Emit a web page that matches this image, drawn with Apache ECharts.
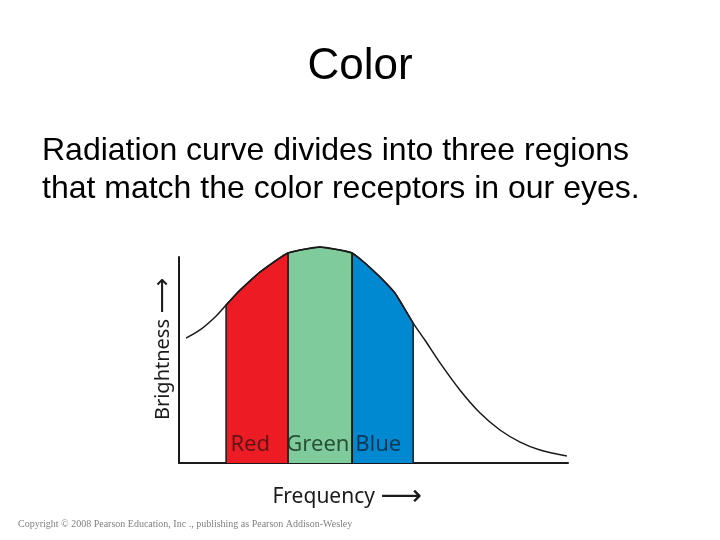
<!DOCTYPE html>
<html><head><meta charset="utf-8">
<script src="https://cdn.jsdelivr.net/npm/echarts@6/dist/echarts.min.js"></script>
<style>html,body{margin:0;padding:0;background:#fff}#c{width:720px;height:540px}</style>
</head><body><div id="c"></div>
<script>
// Radiation curve (frequency, brightness) in arbitrary units
const freq = [1.8, 5.4, 9.3, 12.1, 15.7, 20.8, 24.7, 28.0, 31.1, 36.2, 41.4, 44.5, 47.8, 51.7, 55.5, 60.2, 63.2, 67.1, 72.2, 77.4, 82.5, 87.7, 92.8, 99.7];
const brightness = [56.8, 60.5, 66.4, 71.8, 78.6, 86.8, 91.8, 95.5, 96.8, 98.2, 96.8, 95.5, 90.9, 84.5, 77.3, 63.6, 55.9, 45.5, 33.2, 22.7, 15.0, 9.5, 5.9, 3.2];
// Colour regions
const bandNames = ['Red', 'Green', 'Blue'];
const bandStart = [12.1, 28.0, 44.5];
const bandEnd = [28.0, 44.5, 60.2];
const bandColors = ['#ED1C24', '#80CB9C', '#0088D0'];
const bandLabelX = [18.3, 35.7, 51.2];
const bandLabelY = [8.4, 8.4, 8.4];
const bandLabelColors = ['#3a1414', '#10301c', '#0c2238'];

const curve = freq.map((f, i) => [f, brightness[i]]);
function bandData(a, b) {
  const pts = curve.filter(p => p[0] >= a - 1e-9 && p[0] <= b + 1e-9);
  return [[a, 0]].concat(pts).concat([[b, 0]]);
}

const series = [];
bandNames.forEach((n, i) => {
  series.push({
    type: 'line', xAxisIndex: 0, yAxisIndex: 0, name: n,
    data: bandData(bandStart[i], bandEnd[i]),
    showSymbol: false, smooth: false,
    lineStyle: { color: '#1a1a1a', width: 1.5 },
    areaStyle: { color: bandColors[i], opacity: 1, origin: 0 },
    z: 2
  });
});
series.push({
  type: 'line', xAxisIndex: 0, yAxisIndex: 0, data: curve,
  showSymbol: false, smooth: 0.3,
  lineStyle: { color: '#1a1a1a', width: 1.5 }, z: 3
});
series.push({
  type: 'scatter', xAxisIndex: 0, yAxisIndex: 0, symbolSize: 0,
  data: bandNames.map((n, i) => ({ value: [bandLabelX[i], bandLabelY[i]], name: n,
    label: { color: bandLabelColors[i] } })),
  label: { show: true, position: 'inside', formatter: p => p.name,
    fontFamily: 'Noto Sans', fontSize: 22 },
  z: 5
});

const chart = echarts.init(document.getElementById('c'));
chart.setOption({
  animation: false,
  backgroundColor: '#fff',
  title: [
    { text: 'Color', left: 'center', top: 45, padding: 0,
      textStyle: { fontFamily: 'Liberation Sans', fontSize: 44, fontWeight: 'normal', color: '#000' } },
    { text: 'Radiation curve divides into three regions\nthat match the color receptors in our eyes.',
      left: 42, top: 132, padding: 0,
      textStyle: { fontFamily: 'Liberation Sans', fontSize: 32, fontWeight: 'normal', color: '#000', lineHeight: 38 } },
    { text: 'Copyright \u00a9 2008 Pearson Education, Inc ., publishing as Pearson Addison-Wesley',
      left: 18, top: 519, padding: 0,
      textStyle: { fontFamily: 'Liberation Serif', fontSize: 10, fontWeight: 'normal', color: '#808080' } }
  ],
  grid: [
    { left: 179, right: 152, top: 243, bottom: 77 },
    { left: 179, right: 152, top: 257, bottom: 77 }
  ],
  xAxis: [
    { gridIndex: 0, type: 'value', min: 0, max: 100, show: false },
    { gridIndex: 1, type: 'value', min: 0, max: 100,
      axisLine: { show: true, lineStyle: { color: '#1a1a1a', width: 2 } },
      axisTick: { show: false }, axisLabel: { show: false }, splitLine: { show: false },
      name: '{t|Frequency} {a|\u27f6}', nameLocation: 'start', nameGap: -243,
      nameTextStyle: { fontFamily: 'Noto Sans', fontSize: 21, color: '#1a1a1a',
        verticalAlign: 'top', padding: [20, 0, 0, 0],
        rich: { t: { fontFamily: 'Noto Sans', fontSize: 21, color: '#1a1a1a' },
                a: { fontFamily: 'DejaVu Sans', fontSize: 29, color: '#1a1a1a' } } } }
  ],
  yAxis: [
    { gridIndex: 0, type: 'value', min: 0, max: 100, show: false },
    { gridIndex: 1, type: 'value', min: 0, max: 100,
      axisLine: { show: true, lineStyle: { color: '#1a1a1a', width: 2 } },
      axisTick: { show: false }, axisLabel: { show: false }, splitLine: { show: false },
      name: '{t|Brightness} {a|\u27f6}', nameLocation: 'middle', nameGap: 3, nameRotate: 90,
      nameTextStyle: { fontFamily: 'Noto Sans', fontSize: 20, color: '#1a1a1a', padding: [0, 0, 0, 22],
        rich: { t: { fontFamily: 'Noto Sans', fontSize: 20, color: '#1a1a1a' },
                a: { fontFamily: 'DejaVu Sans', fontSize: 25, color: '#1a1a1a' } } } }
  ],
  series: series
});
</script></body></html>
